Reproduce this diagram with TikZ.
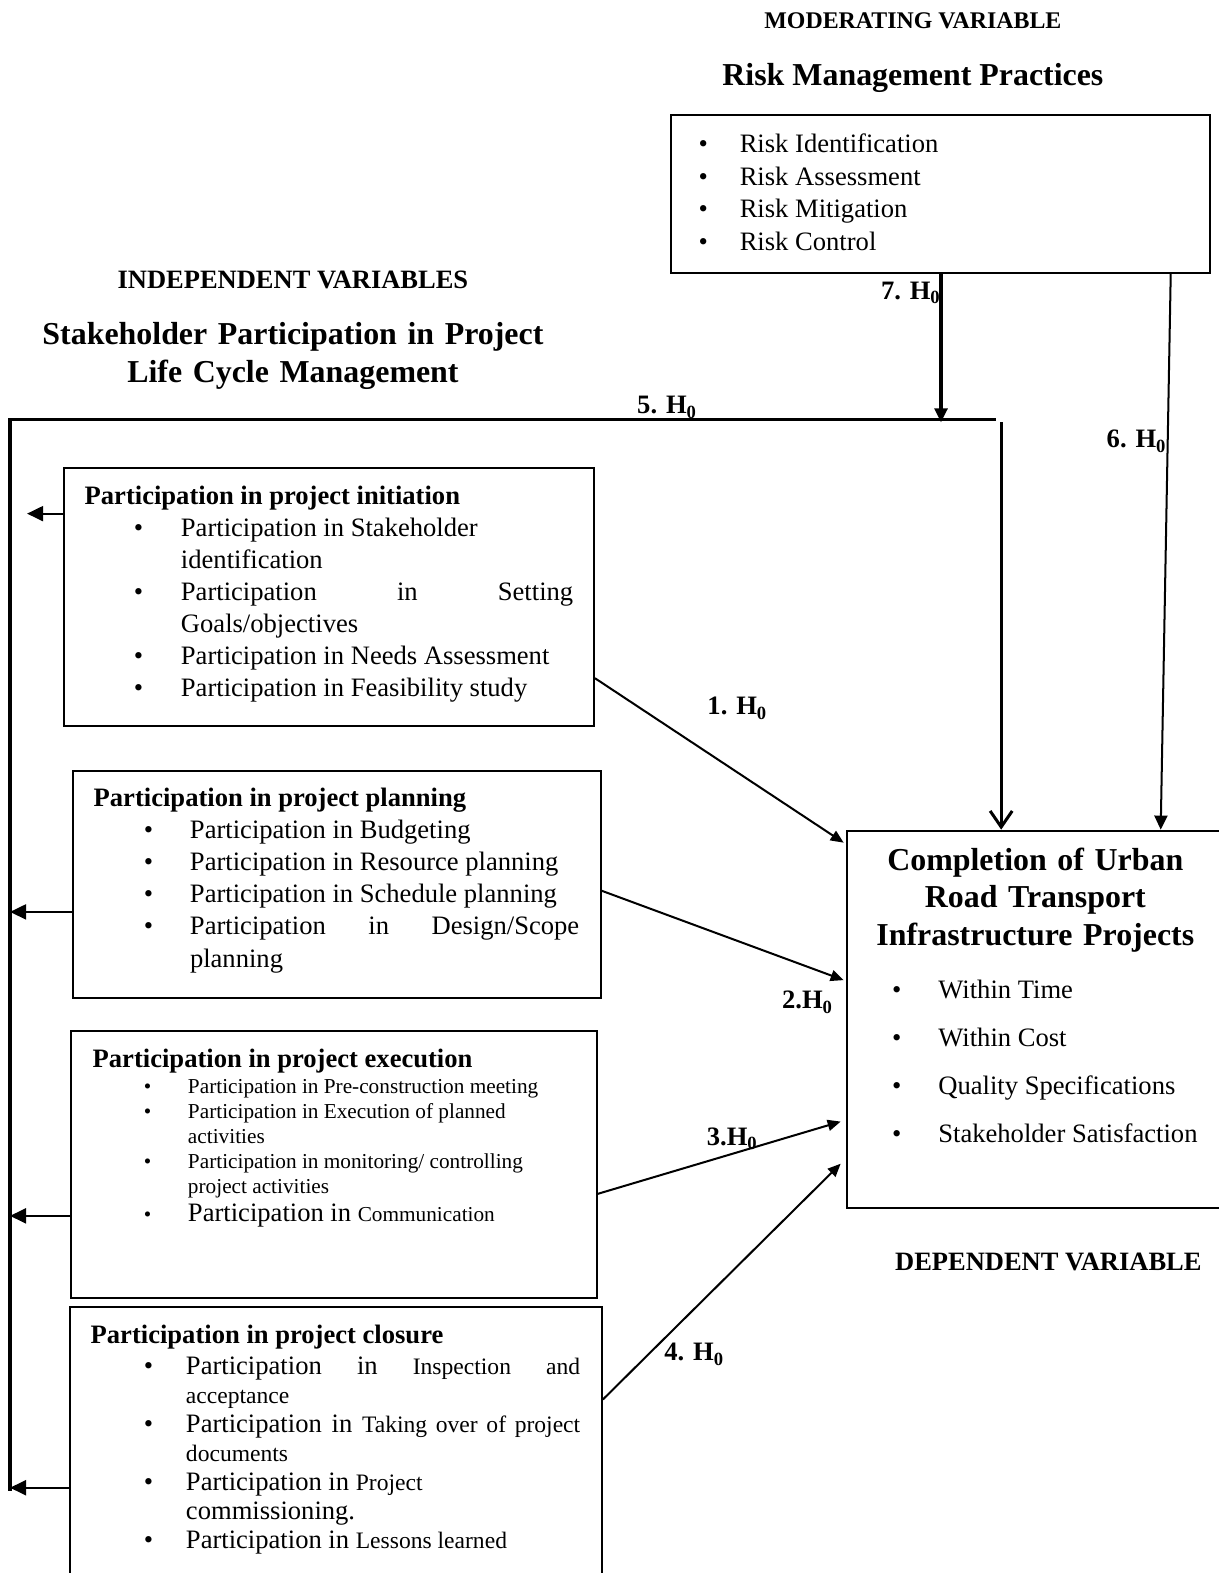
\documentclass[tikz,border=0pt]{standalone}
\usepackage{fontspec}
\setmainfont{Liberation Serif}
\usetikzlibrary{arrows.meta,calc}
\newlength\bulo \newlength\txti \newlength\bulw
\newcommand\setbul[2]{\setlength\bulo{#1}\setlength\txti{#2}\setlength\bulw{\txti}\addtolength\bulw{-\bulo}}
\newcommand\bfirst[1]{\hangindent=\txti\hangafter=1 \hspace*{\bulo}\makebox[\bulw][l]{\textbullet}#1}
\newcommand\bitem[1]{\par\bfirst{#1}}
\newcommand\bodyf{\fontsize{13.25}{15.9}\selectfont}
\newcommand\planf{\fontsize{13.25}{16}\selectfont}
\newcommand\execf{\fontsize{10.6}{12.5}\selectfont}
\newcommand\closf{\fontsize{13.25}{14.5}\selectfont}
\newcommand\clsm{\fontsize{11.75}{14.5}\selectfont}
\newcommand\riskf{\fontsize{13.25}{16.3}\selectfont}
\newcommand\titlef{\fontsize{15.9}{19}\selectfont\bfseries}
\newcommand\modf{\fontsize{11.9}{14}\selectfont\bfseries}
\newcommand\varf{\fontsize{13.2}{15}\selectfont\bfseries}
\newcommand\labf{\fontsize{13.25}{15}\selectfont\bfseries}
\tolerance=10000 \hbadness=10000 \hfuzz=3pt
\begin{document}
\begin{tikzpicture}[x=0.5pt,y=-0.5pt,
  box/.style={draw, line width=1pt, inner sep=0pt, anchor=north west},
  txt/.style={inner sep=0pt, anchor=base west, align=justify},
  lab/.style={font=\labf, inner sep=0pt},
  arr/.style={line width=1pt, -{Triangle[length=6.5pt,width=5.5pt]}},
  larr/.style={line width=1pt, -{Triangle[length=8pt,width=7.5pt]}},
  thk/.style={line width=1.6pt},
  vln/.style={line width=1.5pt}]
\useasboundingbox (0,0) rectangle (1215,1568);

% headings
\node[anchor=base, font=\modf, inner sep=0pt] (mv) at (910,28) {MODERATING VARIABLE};
\node[anchor=base, font=\titlef, inner sep=0pt] (rmp) at (910,85) {Risk Management Practices};
\node[anchor=base, font=\varf, inner sep=0pt] (iv) at (292,288) {INDEPENDENT VARIABLES};
\node[anchor=base, font=\titlef, inner sep=0pt, text width=300pt, align=center] (spl) at (292,343) {Stakeholder Participation in Project\\Life Cycle Management\par};
\node[anchor=base, font=\varf, inner sep=0pt] (dv) at (1045,1266) {DEPENDENT VARIABLE};

% risk box
\node[box, minimum width=268.5pt, minimum height=78.5pt] (rb) at (668,114) {};
\node[txt, text width=240pt, font=\riskf] (rbt) at (696,152) {\setbul{0pt}{20.5pt}\bfirst{Risk Identification}\bitem{Risk Assessment}\bitem{Risk Mitigation}\bitem{Risk Control}\par};

% completion box
\node[box, minimum width=191pt, minimum height=188pt] (cb) at (843,827) {};
\node[anchor=base, font=\fontsize{15.9}{18.5}\selectfont\bfseries, inner sep=0pt, text width=185pt, align=center] (cbt) at (1032,868) {Completion of Urban\\Road Transport\\Infrastructure Projects\par};
\node[txt, text width=170pt, font=\fontsize{13.25}{24}\selectfont] (cbl) at (889,995) {\setbul{0pt}{23pt}\bfirst{Within Time}\bitem{Within Cost}\bitem{Quality Specifications}\bitem{Stakeholder Satisfaction}\par};

% box 1
\node[box, minimum width=264pt, minimum height=128.5pt] (b1) at (63,466) {};
\node[txt, text width=243.5pt, font=\bodyf] (b1t) at (84,503) {\setbul{24.5pt}{48pt}\textbf{Participation in project initiation}%
\bitem{Participation in Stakeholder\\identification}%
\bitem{Participation\hfill in\hfill Setting\linebreak Goals/objectives}%
\bitem{Participation in Needs Assessment}%
\bitem{Participation in Feasibility study}\par};

% box 2
\node[box, minimum width=263pt, minimum height=113pt] (b2) at (72,768) {};
\node[txt, text width=242pt, font=\planf] (b2t) at (93,804) {\setbul{25pt}{48pt}\textbf{Participation in project planning}%
\bitem{Participation in Budgeting}%
\bitem{Participation in Resource planning}%
\bitem{Participation in Schedule planning}%
\bitem{Participation\hfill in\hfill Design/Scope\linebreak planning}\par};

% box 3
\node[box, minimum width=262pt, minimum height=133pt] (b3) at (70,1027) {};
\node[txt, text width=240pt, font=\execf] (b3t) at (92,1064) {\setbul{25.5pt}{47.5pt}{\fontsize{13.25}{12.5}\selectfont\bfseries Participation in project execution}\par\vspace{0.5pt}%
\bitem{Participation in Pre-construction meeting}%
\bitem{Participation in Execution of planned\\activities}%
\bitem{Participation in monitoring/ controlling\\project activities}%
\bitem{\fontsize{13.25}{14}\selectfont Participation in {\execf Communication}}\par};

% box 4
\node[box, minimum width=265pt, minimum height=145pt] (b4) at (69,1302) {};
\node[txt, text width=244pt, font=\closf] (b4t) at (90,1339) {\setbul{26.5pt}{47.5pt}\textbf{Participation in project closure}\par\vspace{1pt}%
\bitem{Participation\hfill in\hfill{\clsm Inspection}\hfill{\clsm and}\linebreak{\clsm acceptance}}%
\bitem{Participation in {\clsm Taking over of project}\linebreak{\clsm documents}}%
\bitem{Participation in {\clsm Project}\\commissioning.}%
\bitem{Participation in {\clsm Lessons learned}}\par};

% feedback frame
\coordinate (lt) at (10,418);
\coordinate (lb) at (10,1486);
\coordinate (tr) at (993,418);
\coordinate (vt) at (998,421);
\draw[thk] (lb) -- (lt) -- (tr);
\draw[vln, -{Straight Barb[length=8pt,width=11pt]}] (vt) -- (vt |- cb.north);

% moderating arrows
\coordinate (s7) at ($(rb.south west)+(270,0)$);
\draw[vln, -{Triangle[length=7pt,width=6.5pt]}] (s7) -- ($(s7 |- lt)+(0,3)$);
\coordinate (s6) at ($(rb.south west)+(499,0)$);
\coordinate (e6) at ($(cb.north west)+(314,0)$);
\draw[line width=1pt, -{Triangle[length=7pt,width=6.5pt]}] (s6) -- (e6);

% hypotheses arrows
\draw[arr] ($(b1.north east)+(0,210)$) -- ($(cb.north west)+(-2,13)$);
\draw[arr] ($(b2.north east)+(0,120)$) -- ($(cb.north west)+(-2,150)$);
\draw[arr] ($(b3.north east)+(0,163)$) -- ($(cb.north west)+(-5,291)$);
\draw[arr] ($(b4.north east)+(0,93)$) -- ($(cb.north west)+(-5,333)$);

% left arrows
\coordinate (s1) at ($(b1.north west)+(0,46)$);
\coordinate (e1) at ($(s1)+(-36,0)$);
\draw[larr] (s1) -- (e1);
\coordinate (s2) at ($(b2.north west)+(0,141)$);
\draw[larr] (s2) -- (s2 -| lt);
\coordinate (s3) at ($(b3.north west)+(0,185)$);
\draw[larr] (s3) -- (s3 -| lt);
\coordinate (s4) at ($(b4.north west)+(0,181)$);
\draw[larr] (s4) -- (s4 -| lt);

% labels
\node[lab] (h7) at (908,292) {7. H\textsubscript{0}};
\node[lab] (h5) at (665,406) {5. H\textsubscript{0}};
\node[lab] (h6) at (1133,440) {6. H\textsubscript{0}};
\node[lab] (h1) at (735,706) {1. H\textsubscript{0}};
\node[lab] (h2) at (805,999) {2.H\textsubscript{0}};
\node[lab] (h3) at (730,1135) {3.H\textsubscript{0}};
\node[lab] (h4) at (692,1350) {4. H\textsubscript{0}};
\end{tikzpicture}
\end{document}
